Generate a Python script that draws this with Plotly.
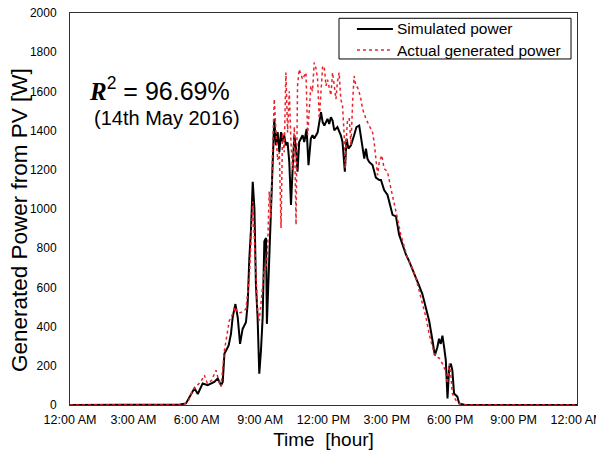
import plotly.graph_objects as go

# Simulated power (hour of day, W)
sim_hours = [0, 5.0, 5.2, 5.49, 5.73, 5.89, 6.05, 6.28, 6.52, 6.68, 6.83, 6.99, 7.15, 7.23, 7.31, 7.39,
             7.51, 7.62, 7.70, 7.83, 7.94, 8.05, 8.17, 8.33, 8.41, 8.49, 8.57, 8.65, 8.73, 8.77, 8.80,
             8.88, 8.96, 9.04, 9.12, 9.20, 9.28, 9.32, 9.39, 9.43, 9.51, 9.59, 9.67, 9.75, 9.83, 9.91,
             9.99, 10.06, 10.14, 10.22, 10.30, 10.38, 10.46, 10.54, 10.62, 10.70, 10.77, 10.85, 10.93,
             11.01, 11.09, 11.20, 11.29, 11.40, 11.48, 11.56, 11.72, 11.88, 11.96, 12.04, 12.19, 12.27,
             12.35, 12.43, 12.51, 12.66, 12.82, 12.90, 13.01, 13.09, 13.18, 13.30, 13.45, 13.56, 13.69,
             13.77, 13.85, 13.93, 14.01, 14.08, 14.16, 14.32, 14.48, 14.64, 14.72, 14.87, 15.03, 15.19,
             15.27, 15.43, 15.58, 15.74, 15.90, 16.05, 16.29, 16.53, 16.68, 16.85, 17.00, 17.16, 17.27,
             17.39, 17.47, 17.55, 17.63, 17.71, 17.79, 17.87, 17.95, 18.03, 18.10, 18.18, 18.34, 18.42,
             18.7, 24]
sim_power = [0, 0, 3, 8, 59, 85, 56, 110, 101, 110, 118, 135, 101, 118, 262, 278,
             304, 363, 447, 515, 447, 312, 388, 422, 515, 750, 900, 1139, 1004, 785, 617,
             447, 160, 278, 447, 835, 852, 414, 616, 785, 953, 1206, 1460, 1325, 1392, 1291,
             1392, 1342, 1376, 1325, 1340, 1240, 1021, 1206, 1376, 1308, 1190, 1342, 1359,
             1376, 1342, 1409, 1224, 1359, 1376, 1360, 1390, 1494, 1443, 1426, 1460, 1434,
             1468, 1451, 1401, 1418, 1376, 1342, 1190, 1359, 1308, 1325, 1376, 1418, 1426,
             1376, 1308, 1257, 1308, 1257, 1240, 1224, 1160, 1148, 1148, 1097, 1072, 1004,
             970, 962, 869, 819, 768, 734, 675, 608, 566, 490, 430, 329, 253,
             295, 338, 312, 354, 295, 228, 34, 194, 211, 177, 59, 42, 8,
             0, 0]

# Actual generated power (hour of day, W)
act_hours = [0, 5.2, 5.4, 5.6, 5.8, 6.0, 6.2, 6.36, 6.5, 6.7, 6.91, 7.05, 7.15, 7.31, 7.54, 7.70,
             7.83, 7.94, 8.09, 8.33, 8.49, 8.65, 8.77, 8.88, 8.96, 9.04, 9.12, 9.20, 9.28, 9.35,
             9.43, 9.51, 9.59, 9.67, 9.75, 9.83, 9.91, 9.99, 10.06, 10.14, 10.22, 10.30, 10.38,
             10.46, 10.54, 10.62, 10.70, 10.77, 10.85, 10.93, 11.01, 11.09, 11.17, 11.25, 11.33,
             11.40, 11.48, 11.56, 11.64, 11.72, 11.80, 11.88, 11.96, 12.04, 12.12, 12.19, 12.27,
             12.35, 12.43, 12.51, 12.59, 12.66, 12.74, 12.82, 12.90, 12.98, 13.03, 13.09, 13.14,
             13.22, 13.30, 13.38, 13.45, 13.53, 13.61, 13.69, 13.77, 13.85, 14.01, 14.16, 14.32,
             14.40, 14.56, 14.64, 14.76, 14.87, 15.03, 15.19, 15.34, 15.50, 15.66, 15.82, 15.97,
             16.13, 16.37, 16.53, 16.68, 16.85, 17.00, 17.16, 17.32, 17.47, 17.63, 17.75, 17.87,
             17.95, 18.03, 18.10, 18.26, 18.42, 18.6, 24]
act_power = [0, 0, 5, 20, 75, 95, 120, 152, 110, 125, 177, 120, 93, 278, 430, 464,
             500, 470, 472, 489, 650, 1038, 700, 481, 430, 532, 616, 700, 690, 785,
             1089, 953, 1300, 1561, 1392, 1250, 1290, 903, 1390, 1290, 1696, 1390, 1600,
             1340, 1200, 1420, 920, 1628, 1713, 1690, 1662, 1680, 1696, 1376, 1544,
             1628, 1600, 1747, 1720, 1662, 1460, 1600, 1730, 1720, 1628, 1660, 1612,
             1580, 1696, 1640, 1561, 1650, 1696, 1560, 1527, 1376, 1206, 1376, 1460,
             1460, 1325, 1550, 1679, 1628, 1620, 1595, 1561, 1510, 1460, 1426, 1392,
             1340, 1173, 1240, 1274, 1206, 1190, 1105, 1038, 953, 869, 802, 751,
             717, 650, 582, 515, 447, 363, 295, 245, 240, 211, 180, 110,
             211, 150, 59, 25, 8, 0, 0]

x_tick_vals = [0, 3, 6, 9, 12, 15, 18, 21, 24]
x_tick_text = ["12:00 AM", "3:00 AM", "6:00 AM", "9:00 AM", "12:00 PM",
               "3:00 PM", "6:00 PM", "9:00 PM", "12:00 AM"]
y_tick_vals = list(range(0, 2001, 200))

series_names = ["Simulated power", "Actual generated power"]
series_colors = ["black", "#e8232a"]

FONT = "Liberation Sans, Arial, sans-serif"
SERIF = "'Liberation Serif', 'Times New Roman', serif"

fig = go.Figure()
fig.add_trace(go.Scatter(x=sim_hours, y=sim_power, mode="lines", name=series_names[0],
                         line=dict(color=series_colors[0], width=2)))
fig.add_trace(go.Scatter(x=act_hours, y=act_power, mode="lines", name=series_names[1],
                         line=dict(color=series_colors[1], width=1.5, dash="dot")))

# Boxed legend drawn in paper coordinates
shapes = [
    dict(type="rect", xref="paper", yref="paper", x0=0.5306, x1=0.9882, y0=0.8827, y1=0.9865,
         line=dict(color="black", width=1), fillcolor="white", layer="above"),
    dict(type="line", xref="paper", yref="paper", x0=0.566, x1=0.637, y0=0.9592, y1=0.9592,
         line=dict(color=series_colors[0], width=2), layer="above"),
    dict(type="line", xref="paper", yref="paper", x0=0.566, x1=0.631, y0=0.9056, y1=0.9056,
         line=dict(color=series_colors[1], width=1.5, dash="dot"), layer="above"),
]
annotations = [
    dict(xref="paper", yref="paper", x=0.641, y=0.9592, xanchor="left", yanchor="middle",
         showarrow=False, text=series_names[0], font=dict(size=15.5, family=FONT)),
    dict(xref="paper", yref="paper", x=0.641, y=0.9056, xanchor="left", yanchor="middle",
         showarrow=False, text=series_names[1], font=dict(size=15.5, family=FONT)),
    dict(xref="paper", yref="paper", x=0.034, y=0.806, xanchor="left", yanchor="middle",
         showarrow=False,
         text="<span style=\"font-family:" + SERIF + "\"><b><i>R</i></b></span><sup>2</sup> = 96.69%",
         font=dict(size=25, family=FONT)),
    dict(xref="paper", yref="paper", x=0.043, y=0.7309, xanchor="left", yanchor="middle",
         showarrow=False, text="(14th May 2016)",
         font=dict(size=20, family=FONT)),
    # y-axis title
    dict(xref="paper", yref="paper", x=-0.1006, y=0.4719, xanchor="center", yanchor="middle",
         showarrow=False, textangle=-90, text="Generated Power from PV [W]",
         font=dict(size=22.5, family=FONT)),
]

# The page body adds an 8 px offset, so the figure is drawn 8 px smaller
fig.update_layout(
    width=596, height=447,
    margin=dict(l=62, r=27, t=5, b=50),
    paper_bgcolor="white", plot_bgcolor="white",
    font=dict(family=FONT, color="black"),
    showlegend=False,
    shapes=shapes,
    annotations=annotations,
)
fig.update_xaxes(range=[0, 24], tickvals=x_tick_vals, ticktext=x_tick_text,
                 showgrid=False, zeroline=False, showline=True, linecolor="#333",
                 linewidth=1, mirror=True, ticks="", tickfont=dict(size=12.5),
                 ticklabeloverflow="allow", automargin=False, ticklabelstandoff=3,
                 title=dict(text="Time\u00a0\u00a0[hour]", font=dict(size=19), standoff=6))
fig.update_yaxes(range=[0, 2000], tickvals=y_tick_vals,
                 showgrid=False, zeroline=False, showline=True, linecolor="#333",
                 linewidth=1, mirror=True, ticks="", tickfont=dict(size=12),
                 ticklabelstandoff=10, automargin=False, ticklabeloverflow="allow")

fig.write_html("out.html")
